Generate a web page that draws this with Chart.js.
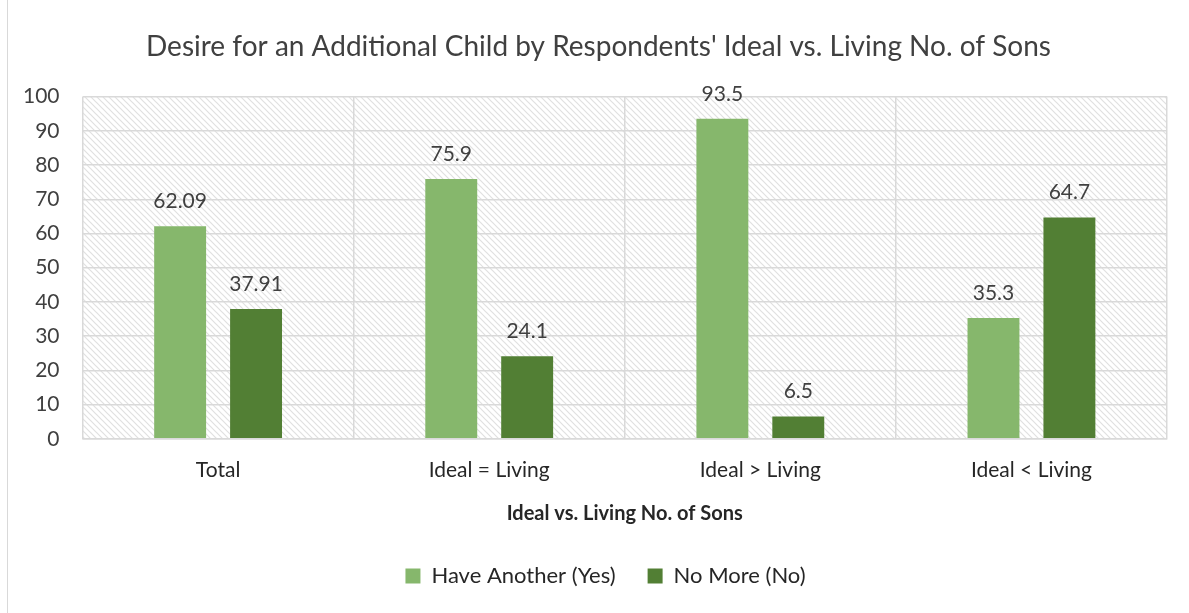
<!DOCTYPE html>
<html lang="en">
<head>
<meta charset="UTF-8">
<title>Desire for an Additional Child</title>
<script src="https://cdn.jsdelivr.net/npm/chart.js"></script>
<style>
    body { margin: 0; background: #fff; }
    .chart-box { position: absolute; left: 0; top: 0; width: 1189px; height: 613px; }
    .edge { position: absolute; left: 7px; top: 0; width: 1px; height: 613px; background: #d9d9d9; }
</style>
</head>
<body>
<div class="edge"></div>
<div class="chart-box">
    <canvas id="sonsChart"></canvas>
</div>
<script>
// data
const categories = ['Total', 'Ideal = Living', 'Ideal > Living', 'Ideal < Living'];
const haveAnother = [62.09, 75.9, 93.5, 35.3];
const noMore = [37.91, 24.1, 6.5, 64.7];
const yTicks = [0, 10, 20, 30, 40, 50, 60, 70, 80, 90, 100];

const FONT = 'Lato, "Open Sans", sans-serif';

// light diagonal hatch used as the plot background
function makeHatch() {
    const c = document.createElement('canvas');
    c.width = 6; c.height = 6;
    const g = c.getContext('2d');
    g.fillStyle = '#ffffff';
    g.fillRect(0, 0, 6, 6);
    g.strokeStyle = '#e0e0e0';
    g.lineWidth = 1.2;
    g.beginPath();
    g.moveTo(-1, -1); g.lineTo(7, 7);
    g.moveTo(-1, 5); g.lineTo(1, 7);
    g.moveTo(5, -1); g.lineTo(7, 1);
    g.stroke();
    return g.createPattern(c, 'repeat');
}

const plotBackground = {
    id: 'plotBackground',
    beforeDraw(chart) {
        const { ctx, chartArea: a } = chart;
        ctx.save();
        ctx.fillStyle = makeHatch();
        ctx.fillRect(a.left, a.top, a.right - a.left, a.bottom - a.top);
        ctx.restore();
    }
};

// title and legend sit a little right of the plot centre in the original
const nudgeBoxes = {
    id: 'nudgeBoxes',
    afterLayout(chart) {
        if (chart.titleBlock) { chart.titleBlock.left += 15; chart.titleBlock.right += 15; }
        if (chart.legend) { chart.legend.left += 22; chart.legend.right += 22; }
    }
};

const valueLabels = {
    id: 'valueLabels',
    afterDatasetsDraw(chart) {
        const ctx = chart.ctx;
        ctx.save();
        ctx.font = '21px ' + FONT;
        ctx.fillStyle = '#404040';
        ctx.textAlign = 'center';
        ctx.textBaseline = 'middle';
        chart.data.datasets.forEach((ds, i) => {
            chart.getDatasetMeta(i).data.forEach((bar, j) => {
                ctx.fillText(String(ds.data[j]), bar.x, bar.y - 25);
            });
        });
        ctx.restore();
    }
};

new Chart(document.getElementById('sonsChart'), {
    type: 'bar',
    data: {
        labels: categories,
        datasets: [
            { label: 'Have Another (Yes)', data: haveAnother, backgroundColor: '#86b76c' },
            { label: 'No More (No)', data: noMore, backgroundColor: '#527f34' }
        ]
    },
    options: {
        responsive: true,
        maintainAspectRatio: false,
        animation: false,
        categoryPercentage: 0.56,
        barPercentage: 0.684,
        layout: { padding: { left: 0, right: 22, top: 14, bottom: 16 } },
        scales: {
            x: {
                grid: { color: '#d9d9d9', lineWidth: 1.5, drawTicks: false },
                border: { color: '#d9d9d9', width: 1.5 },
                ticks: { color: '#262626', font: { family: FONT, size: 21 }, padding: 19 },
                title: {
                    display: true, text: 'Ideal vs. Living No. of Sons',
                    color: '#262626', font: { family: FONT, size: 20, weight: 'bold' },
                    padding: { top: 0, bottom: 7 }
                }
            },
            y: {
                min: 0, max: 100,
                afterBuildTicks(axis) { axis.ticks = yTicks.map(v => ({ value: v })); },
                grid: { color: '#d9d9d9', lineWidth: 1.5, drawTicks: false },
                border: { display: false },
                ticks: { color: '#404040', font: { family: FONT, size: 21 }, padding: 23 }
            }
        },
        plugins: {
            title: {
                display: true,
                text: "Desire for an Additional Child by Respondents' Ideal vs. Living No. of Sons",
                color: '#404040',
                font: { family: FONT, size: 28, weight: 'normal' },
                padding: { top: 16, bottom: 33 }
            },
            legend: {
                position: 'bottom',
                labels: {
                    color: '#262626',
                    font: { family: FONT, size: 22 },
                    boxWidth: 15, boxHeight: 15, padding: 32
                }
            },
            tooltip: { enabled: false }
        }
    },
    plugins: [plotBackground, nudgeBoxes, valueLabels]
});
</script>
</body>
</html>
